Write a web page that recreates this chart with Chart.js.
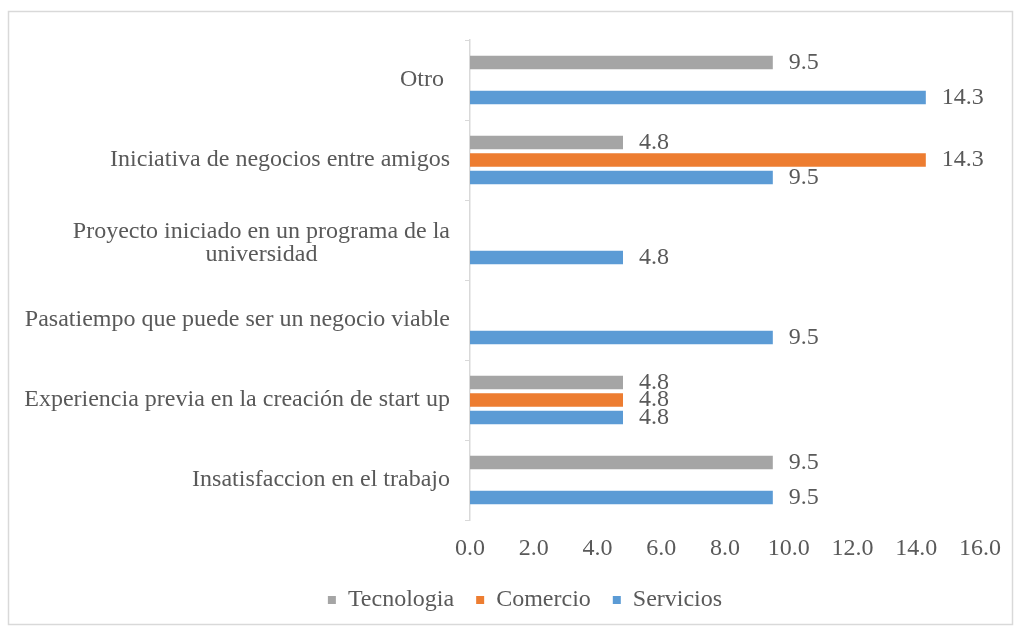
<!DOCTYPE html>
<html>
<head>
<meta charset="utf-8">
<script src="https://cdn.jsdelivr.net/npm/chart.js@4/dist/chart.umd.min.js"></script>
<style>
  html, body { margin: 0; padding: 0; background: #ffffff; }
  #wrap { width: 1021px; height: 632px; }
</style>
</head>
<body>
<div id="wrap"><canvas id="c" width="1021" height="632"></canvas></div>
<script>
const categories = [
  'Otro ',
  'Iniciativa de negocios entre amigos',
  ['Proyecto iniciado en un programa de la', 'universidad'],
  'Pasatiempo que puede ser un negocio viable',
  'Experiencia previa en la creación de start up',
  'Insatisfaccion en el trabajo'
];
const seriesNames = ['Tecnologia', 'Comercio', 'Servicios'];
const tecnologia = [9.5, 4.8, null, null, 4.8, 9.5];
const comercio   = [null, 14.3, null, null, 4.8, null];
const servicios  = [14.3, 9.5, 4.8, 9.5, 4.8, 9.5];
const xTicksMin = 0, xTicksMax = 16, xTickStep = 2;

const FONT = '"Liberation Serif", "Times New Roman", serif';
const FS = 24;
const TXT = '#595959';

const borderPlugin = {
  id: 'outerBorder',
  beforeDraw(chart) {
    const ctx = chart.ctx;
    ctx.save();
    ctx.fillStyle = '#ffffff';
    ctx.fillRect(0, 0, chart.width, chart.height);
    ctx.strokeStyle = '#d9d9d9';
    ctx.lineWidth = 1.5;
    ctx.strokeRect(8.5, 11.5, 1004, 613);
    ctx.restore();
  }
};

const yLabelPlugin = {
  id: 'yLabels',
  afterDraw(chart) {
    const scale = chart.scales.y;
    const ctx = chart.ctx;
    ctx.save();
    ctx.font = FS + 'px ' + FONT;
    ctx.fillStyle = TXT;
    ctx.textAlign = 'center';
    ctx.textBaseline = 'middle';
    const lh = 23;
    chart.data.labels.forEach((lab, i) => {
      const lines = Array.isArray(lab) ? lab : [lab];
      const maxW = Math.max(...lines.map(l => ctx.measureText(l).width));
      const cx = scale.right - 20 - maxW / 2;
      const cy = scale.getPixelForTick(i);
      const start = cy - (lines.length - 1) * lh / 2 + (lines.length > 1 ? 3 : 0);
      lines.forEach((l, k) => ctx.fillText(l, cx, start + k * lh));
    });
    ctx.restore();
  }
};

const valueLabelPlugin = {
  id: 'valueLabels',
  afterDatasetsDraw(chart) {
    const ctx = chart.ctx;
    ctx.save();
    ctx.font = FS + 'px ' + FONT;
    ctx.fillStyle = TXT;
    ctx.textAlign = 'left';
    ctx.textBaseline = 'middle';
    chart.data.datasets.forEach((ds, di) => {
      const meta = chart.getDatasetMeta(di);
      meta.data.forEach((bar, i) => {
        const v = ds.data[i];
        if (v === null || v === undefined) return;
        ctx.fillText(v.toFixed(1), bar.x + 16, bar.y);
      });
    });
    ctx.restore();
  }
};

new Chart(document.getElementById('c'), {
  type: 'bar',
  data: {
    labels: categories,
    datasets: [
      { label: seriesNames[0], data: tecnologia, backgroundColor: '#A5A5A5' },
      { label: seriesNames[1], data: comercio, backgroundColor: '#ED7D31' },
      { label: seriesNames[2], data: servicios, backgroundColor: '#5B9BD5' }
    ]
  },
  options: {
    indexAxis: 'y',
    responsive: false,
    animation: false,
    categoryPercentage: 0.656,
    barPercentage: 0.77,
    layout: { padding: { top: 40, right: 41, bottom: 10, left: 70 } },
    scales: {
      x: {
        min: xTicksMin, max: xTicksMax,
        ticks: {
          stepSize: xTickStep,
          callback: v => Number(v).toFixed(1),
          font: { family: FONT, size: FS },
          color: TXT,
          padding: 14
        },
        grid: { display: false, drawTicks: false },
        border: { display: false },
        afterFit(s) { s.height = 46; }
      },
      y: {
        ticks: { display: false },
        grid: { display: true, drawOnChartArea: false, drawTicks: true, tickLength: 5, color: '#d9d9d9', offset: true },
        border: { display: true, color: '#d9d9d9', width: 1.5 },
        afterFit(s) { s.width = 400; }
      }
    },
    plugins: {
      tooltip: { enabled: false },
      legend: {
        position: 'bottom',
        labels: {
          boxWidth: 8, boxHeight: 8, padding: 22,
          color: TXT,
          font: { family: FONT, size: FS }
        }
      }
    }
  },
  plugins: [borderPlugin, yLabelPlugin, valueLabelPlugin]
});
</script>
</body>
</html>
